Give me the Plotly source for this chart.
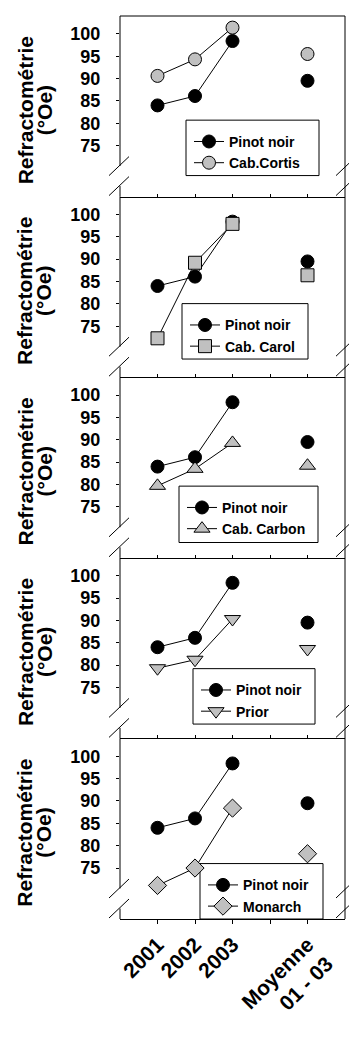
import plotly.graph_objects as go

# ---- data ----
x_pos = [1, 2, 3, 4, 5]
tick_text = ["2001", "2002", "2003", "", "Moyenne<br>01 - 03"]
pinot = [84.0, 86.1, 98.4, None, 89.5]
cortis = [90.6, 94.3, 101.4, None, 95.5]
carol = [72.3, 89.2, 97.9, None, 86.4]
carbon = [79.7, 83.5, 89.3, None, 84.2]
prior = [79.3, 81.2, 90.3, None, 83.6]
monarch = [71.1, 75.0, 88.4, None, 78.2]

partners = [
    ("Cab.Cortis", cortis, "circle", 13),
    ("Cab. Carol", carol, "square", 13),
    ("Cab. Carbon", carbon, "triangle-up", 14),
    ("Prior", prior, "triangle-down", 14),
    ("Monarch", monarch, "diamond", 14),
]
y_ticks = [75, 80, 85, 90, 95, 100]

# ---- layout geometry (pixels) ----
W, H = 349, 1037
ML, MR, MT, MB = 120, 4, 16, 76
PW = W - ML - MR
PH = H - MT - MB
NP = 5

# legend boxes (left, top, right, bottom) in pixels
leg_box = [(186, 125, 319, 183), (182, 317, 308, 375), (179, 508, 318, 567),
           (193, 699, 315, 757), (200, 903, 323, 961)]

FONT = "Liberation Sans"

fig = go.Figure()
layout = {}
shapes = []
annotations = []

def px2x(px):
    return (px - ML) / PW

def py2y(py):
    return (H - MB - py) / PH

for i, (name, vals, sym, msz) in enumerate(partners):
    n = i + 1
    xa = "x" if n == 1 else f"x{n}"
    ya = "y" if n == 1 else f"y{n}"
    leg = "legend" if n == 1 else f"legend{n}"
    bottom = (NP - 1 - i) / NP
    top = (NP - i) / NP

    fig.add_trace(go.Scatter(
        x=x_pos, y=pinot, mode="lines+markers", name="Pinot noir",
        xaxis=xa, yaxis=ya, legend=leg, connectgaps=False,
        line=dict(color="black", width=1),
        marker=dict(symbol="circle", size=13, color="black",
                    line=dict(color="black", width=1)),
    ))
    fig.add_trace(go.Scatter(
        x=x_pos, y=vals, mode="lines+markers", name=name,
        xaxis=xa, yaxis=ya, legend=leg, connectgaps=False,
        line=dict(color="black", width=1),
        marker=dict(symbol=sym, size=msz, color="#c0c0c0",
                    line=dict(color="black", width=1)),
    ))

    last = (n == NP)
    layout[f"xaxis{'' if n == 1 else n}"] = dict(
        domain=[0, 1], range=[0, 6], anchor=ya,
        tickvals=x_pos, ticktext=tick_text if last else [""] * 5,
        showticklabels=last, tickangle=-45,
        ticks="outside" if last else "inside", ticklen=4 if last else 3,
        tickcolor="black", tickwidth=1,
        showline=True, linecolor="black", linewidth=1,
        showgrid=False, zeroline=False,
        tickfont=dict(family=FONT, size=21, color="black", weight="bold"),
    )
    layout[f"yaxis{'' if n == 1 else n}"] = dict(
        domain=[bottom, top], range=[63.6, 104.0], anchor=xa,
        tickvals=y_ticks, ticks="outside", ticklen=3,
        tickcolor="black", tickwidth=1, ticklabelstandoff=12,
        showline=False, showgrid=False, zeroline=False,
        tickfont=dict(family=FONT, size=18, color="black", weight="bold"),
    )
    l, t, r, b = leg_box[i]
    shapes.append(dict(type="rect", xref="paper", yref="paper",
                       x0=px2x(l), x1=px2x(r), y0=py2y(b), y1=py2y(t),
                       fillcolor="white", line=dict(color="black", width=1),
                       layer="below"))
    layout[leg] = dict(
        x=px2x(l + 3), y=py2y(t + 6), xanchor="left", yanchor="top",
        bgcolor="rgba(0,0,0,0)", borderwidth=0,
        font=dict(family=FONT, size=14, color="black", weight="bold"),
        tracegroupgap=0,
    )

    # left axis line with break gap
    shapes.append(dict(type="line", xref="paper", yref="paper",
                       x0=0, x1=0, y0=bottom + 32 / PH, y1=top,
                       line=dict(color="black", width=1)))
    shapes.append(dict(type="line", xref="paper", yref="paper",
                       x0=0, x1=0, y0=bottom, y1=bottom + 11 / PH,
                       line=dict(color="black", width=1)))
    # break slashes left and right
    for xa_anchor, dx in ((0, -11), (1, -9)):
        for dy in (21, 1):
            shapes.append(dict(type="line", xref="paper", yref="paper",
                               xsizemode="pixel", ysizemode="pixel",
                               xanchor=xa_anchor, yanchor=bottom,
                               x0=dx, x1=dx + 20, y0=dy, y1=dy + 19,
                               line=dict(color="black", width=1)))
    # y title (two lines placed separately for tight spacing)
    for txt, xs in (("Refractométrie", -95), ("(°Oe)", -76)):
        annotations.append(dict(
            text=txt, xref="paper", yref="paper",
            x=0, y=(bottom + top) / 2, xanchor="center", yanchor="middle",
            xshift=xs, yshift=-4, textangle=-90, showarrow=False,
            font=dict(family=FONT, size=21, color="black", weight="bold"),
        ))

# right frame line and top frame line
shapes.append(dict(type="line", xref="paper", yref="paper",
                   x0=1, x1=1, y0=0, y1=1, line=dict(color="black", width=1)))
shapes.append(dict(type="line", xref="paper", yref="paper",
                   x0=0, x1=1, y0=1, y1=1, line=dict(color="black", width=1)))

fig.update_layout(
    width=W, height=H,
    margin=dict(l=ML, r=MR, t=MT, b=MB, pad=0),
    paper_bgcolor="white", plot_bgcolor="white",
    showlegend=True, shapes=shapes, annotations=annotations,
    **layout,
)

fig.write_html("out.html")
